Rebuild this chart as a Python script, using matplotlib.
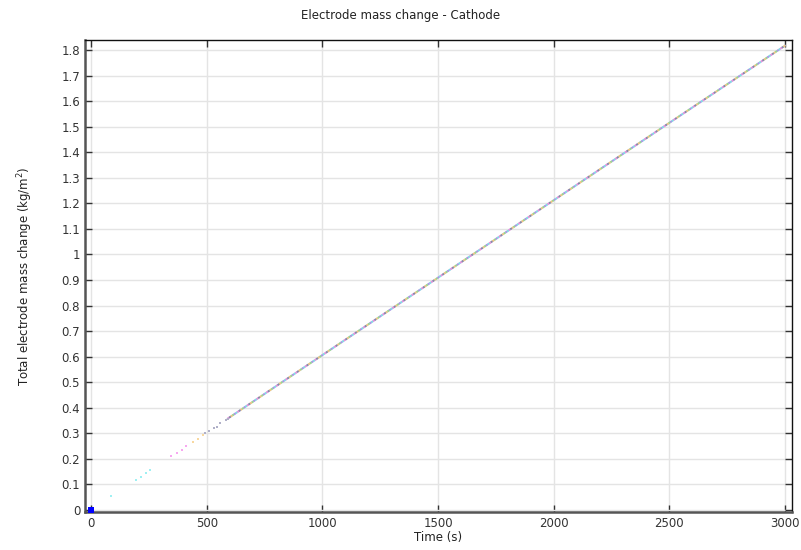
import matplotlib
matplotlib.use("Agg")
import matplotlib.pyplot as plt
from matplotlib.ticker import FuncFormatter, MultipleLocator

# ---- data ----
start_time = [0.0]
start_mass = [0.0]

# sparse early points (grouped by colour)
cyan_t = [87, 194, 214, 236, 257]
cyan_m = [0.055, 0.117, 0.130, 0.143, 0.156]
magenta_t = [347, 370, 392, 412]
magenta_m = [0.211, 0.224, 0.236, 0.249]
orange_t = [441, 463, 485]
orange_m = [0.266, 0.279, 0.293]
gray_t = [492, 512, 532, 543, 556, 584, 592]
gray_m = [0.300, 0.309, 0.322, 0.325, 0.339, 0.352, 0.357]

# dense part of the curve
main_time = [590, 1000, 1500, 2000, 2500, 3000]
main_mass = [0.357, 0.606, 0.909, 1.212, 1.515, 1.817]

dot_colors = ["#e890e0", "#80dde8", "#a898e8", "#98d890", "#f0c880", "#8888a8"]

fig = plt.figure(figsize=(8.01, 5.5), dpi=100)
ax = fig.add_axes([85 / 801, 1 - 512 / 550, (792 - 85) / 801, (512 - 40) / 550])

ax.set_xlim(-26, 3030)
ax.set_ylim(-0.008, 1.839)

ax.grid(True, color="#e4e4e4", linewidth=1.0)
ax.set_axisbelow(True)

# base faint line under the dots
ax.plot(main_time, main_mass, color="#c8c0d8", linewidth=1.2, zorder=2)

# dense multicoloured dotted line
n = len(dot_colors)
lw = 1.4
for i, c in enumerate(dot_colors):
    ln, = ax.plot(main_time, main_mass, color=c, linewidth=lw,
                  dash_capstyle="butt", zorder=3)
    ln.set_dashes((1, n - 1))
    ln._dash_pattern = (i * lw, [lw, (n - 1) * lw])

for t, m, c in [(cyan_t, cyan_m, "#9ff0f2"), (magenta_t, magenta_m, "#f7a8f0"),
                (orange_t, orange_m, "#f8d8a0"), (gray_t, gray_m, "#b0b0c8")]:
    ax.scatter(t, m, s=3, marker="s", color=c, linewidths=0, zorder=3)

ax.scatter(start_time, start_mass, s=16, marker="s", color="#0000ff",
           linewidths=0, zorder=4, clip_on=False)

ax.xaxis.set_major_locator(MultipleLocator(500))
ax.yaxis.set_major_locator(MultipleLocator(0.1))
ax.yaxis.set_major_formatter(FuncFormatter(
    lambda v, p: f"{v:.1f}".rstrip("0").rstrip(".") if abs(v) > 1e-9 else "0"))

ax.tick_params(axis="both", direction="in", length=5, width=1.0, labelsize=8.5,
               labelcolor="#333333", color="#333333", top=True, right=True)
ax.tick_params(axis="y", which="both", right=True, labelright=False)

for side in ["left", "bottom"]:
    ax.spines[side].set_linewidth(1.8)
    ax.spines[side].set_color("#555555")
for side in ["top", "right"]:
    ax.spines[side].set_linewidth(1.0)
    ax.spines[side].set_color("#111111")

ax.set_xlabel("Time (s)", fontsize=8.5, color="#222222", labelpad=1)
ax.set_ylabel("Total electrode mass change (kg/m$^2$)", fontsize=8.5,
              color="#222222", labelpad=19)
fig.text(0.5, 1 - 16 / 550, "Electrode mass change - Cathode", ha="center",
         va="center", fontsize=8.5, color="#222222")

fig.savefig("out.png", dpi=100)
